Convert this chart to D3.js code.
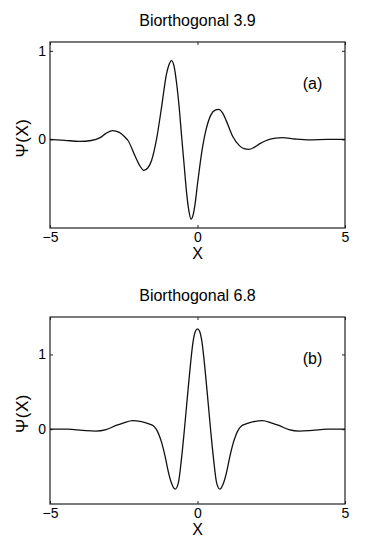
<!DOCTYPE html>
<html>
<head>
<meta charset="utf-8">
<script src="https://cdn.jsdelivr.net/npm/d3@7"></script>
<style>
  body { margin: 0; background: #fff; }
  svg { display: block; font-family: "Liberation Sans", Arial, sans-serif; }
</style>
</head>
<body>
<svg id="chart" width="382" height="551"></svg>
<script>
// Biorthogonal 3.9 wavelet
const xA = [-5, -4.5, -4.0, -3.6, -3.3, -3.1, -2.88, -2.65, -2.47, -2.35, -2.12, -1.95, -1.82, -1.68, -1.56, -1.39,
  -1.22, -1.05, -0.97, -0.88, -0.79, -0.71, -0.62, -0.54, -0.45, -0.37, -0.3, -0.22, -0.14, -0.07, 0.0, 0.09, 0.18,
  0.29, 0.46, 0.6, 0.72, 0.85, 0.97, 1.2, 1.42, 1.58, 1.74, 1.92, 2.1, 2.44, 2.65, 2.88, 3.3, 3.8, 4.4, 5];
const yA = [0, -0.01, -0.022, -0.012, 0.02, 0.068, 0.10, 0.08, 0.03, -0.015, -0.185, -0.3, -0.35, -0.32, -0.24, 0.0,
  0.36, 0.74, 0.84, 0.89, 0.82, 0.64, 0.36, 0.04, -0.3, -0.6, -0.79, -0.9, -0.84, -0.7, -0.5, -0.27, -0.07,
  0.11, 0.28, 0.33, 0.34, 0.3, 0.215, 0.03, -0.07, -0.105, -0.113, -0.09, -0.05, 0.0, 0.015, 0.02, 0.005, -0.005, 0, 0];

// Biorthogonal 6.8 wavelet
const xB = [-5, -4.4, -3.9, -3.45, -3.1, -2.76, -2.5, -2.2, -1.9, -1.67, -1.5, -1.4, -1.3, -1.2, -1.1, -1.0, -0.9,
  -0.76, -0.65, -0.55, -0.45, -0.35, -0.25, -0.15, -0.07, 0, 0.07, 0.15, 0.25, 0.35, 0.45, 0.55, 0.65, 0.76, 0.9,
  1.0, 1.1, 1.2, 1.3, 1.4, 1.5, 1.67, 1.9, 2.2, 2.5, 2.76, 3.1, 3.45, 3.9, 4.4, 5];
const yB = [0, 0, -0.015, -0.025, -0.005, 0.05, 0.085, 0.115, 0.10, 0.075, 0.045, 0.0, -0.08, -0.2, -0.36, -0.55, -0.7,
  -0.8, -0.72, -0.42, -0.03, 0.4, 0.82, 1.17, 1.31, 1.34, 1.31, 1.17, 0.82, 0.4, -0.03, -0.42, -0.72, -0.8, -0.7,
  -0.55, -0.36, -0.2, -0.08, 0.0, 0.045, 0.075, 0.10, 0.115, 0.085, 0.05, -0.005, -0.025, -0.015, 0, 0];

const xTicks = [-5, 0, 5];
const yTicksA = [0, 1];
const yTicksB = [0, 1];

const panels = [
  { title: 'Biorthogonal 3.9', tag: '(a)', xs: xA, ys: yA, yDomain: [-1, 1.1], yTicks: yTicksA, top: 42, bottom: 228 },
  { title: 'Biorthogonal 6.8', tag: '(b)', xs: xB, ys: yB, yDomain: [-1, 1.5], yTicks: yTicksB, top: 317, bottom: 504 }
];

const svg = d3.select('#chart');
const left = 50, right = 345;
const fmt = d => d < 0 ? '\u2212' + Math.abs(d) : String(d);

panels.forEach(p => {
  const x = d3.scaleLinear().domain([-5, 5]).range([left, right]);
  const y = d3.scaleLinear().domain(p.yDomain).range([p.bottom, p.top]);
  const g = svg.append('g');

  // ticks point inward on all four sides, like matlab
  g.append('g').attr('class', 'axis').attr('transform', `translate(0,${p.bottom})`)
    .call(d3.axisBottom(x).tickValues(xTicks).tickSizeInner(-3).tickSizeOuter(0).tickPadding(4.5).tickFormat(fmt));
  g.append('g').attr('class', 'axis').attr('transform', `translate(0,${p.top})`)
    .call(d3.axisTop(x).tickValues(xTicks).tickSizeInner(-3).tickSizeOuter(0).tickFormat(''));
  g.append('g').attr('class', 'axis').attr('transform', `translate(${left},0)`)
    .call(d3.axisLeft(y).tickValues(p.yTicks).tickSizeInner(-3).tickSizeOuter(0).tickPadding(4).tickFormat(fmt));
  g.append('g').attr('class', 'axis').attr('transform', `translate(${right},0)`)
    .call(d3.axisRight(y).tickValues(p.yTicks).tickSizeInner(-3).tickSizeOuter(0).tickFormat(''));
  g.selectAll('.domain').remove();
  g.selectAll('.axis').attr('font-size', null).attr('font-family', null);
  g.selectAll('.axis text').style('font-size', '14px').style('fill', '#000');
  g.selectAll('.axis line').style('stroke', '#222');

  g.append('rect').attr('x', left).attr('y', p.top).attr('width', right - left).attr('height', p.bottom - p.top)
    .attr('fill', 'none').attr('stroke', '#222').attr('stroke-width', 1.2);

  const line = d3.line().x((d, i) => x(p.xs[i])).y(d => y(d)).curve(d3.curveMonotoneX);
  g.append('path').datum(p.ys).attr('d', line)
    .attr('fill', 'none').attr('stroke', '#111').attr('stroke-width', 1.3);

  g.append('text').attr('x', (left + right) / 2).attr('y', p.top - 16).attr('text-anchor', 'middle')
    .style('font-size', '16px').text(p.title);
  g.append('text').attr('x', (left + right) / 2).attr('y', p.bottom + 31).attr('text-anchor', 'middle')
    .style('font-size', '16px').text('X');
  g.append('text').attr('transform', `translate(28,${(p.top + p.bottom) / 2 + 3}) rotate(-90)`)
    .attr('text-anchor', 'middle').style('letter-spacing', '0.5px')
    .style('font-size', '17px').text('\u03A8(X)');
  g.append('text').attr('x', x(3.9)).attr('y', p.top + 47).attr('text-anchor', 'middle')
    .style('font-size', '16px').text(p.tag);
});
</script>
</body>
</html>
